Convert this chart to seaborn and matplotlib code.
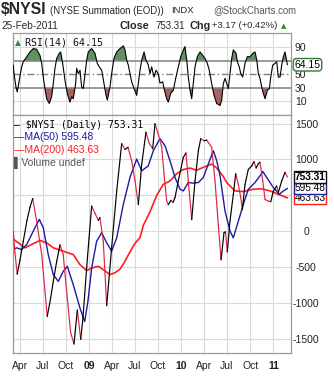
import numpy as np
import pandas as pd
import matplotlib
matplotlib.use("Agg")
import matplotlib.pyplot as plt
import seaborn as sns

# ---------------- data (time in decimal years) ----------------
nysi_t = [2008.174, 2008.192, 2008.217, 2008.247, 2008.283, 2008.323, 2008.355, 2008.385,
          2008.428, 2008.483, 2008.543, 2008.578, 2008.609, 2008.646, 2008.682, 2008.717,
          2008.754, 2008.798, 2008.834, 2008.870, 2008.907, 2008.932, 2008.972, 2008.997,
          2009.026, 2009.062, 2009.098, 2009.116, 2009.152, 2009.189, 2009.243, 2009.298,
          2009.352, 2009.388, 2009.421, 2009.461, 2009.497, 2009.533, 2009.570, 2009.616,
          2009.652, 2009.689, 2009.714, 2009.750, 2009.787, 2009.812, 2009.841, 2009.859,
          2009.888, 2009.910, 2009.932, 2009.967, 2010.022, 2010.051, 2010.076, 2010.113,
          2010.149, 2010.185, 2010.211, 2010.247, 2010.276, 2010.293, 2010.330, 2010.366,
          2010.402, 2010.432, 2010.464, 2010.480, 2010.500, 2010.529, 2010.565, 2010.591,
          2010.620, 2010.646, 2010.663, 2010.692, 2010.728, 2010.765, 2010.790, 2010.812,
          2010.837, 2010.855, 2010.885, 2010.910, 2010.946, 2010.972, 2011.000, 2011.037,
          2011.054, 2011.091, 2011.127, 2011.153]
nysi_v = [0, -300, -600, -400, -140, 150, 330, 455,
          140, -330, -1190, -950, -700, -420, -190, -330,
          -840, -1420, -1575, -1100, -1510, -1200, -500, -100,
          350, 250, 150, 190, -140, -1040, -230, 560,
          1220, 1140, 1170, 980, 700, 370, 935, 1380,
          1220, 1150, 1500, 1350, 1170, 800, 420, 370,
          430, 400, 470, 700, 1030, 1090, 700, 160,
          700, 1120, 1290, 1260, 1270, 1240, 1170, 700,
          90, -400, -20, -10, -290, 140, 510, 800,
          650, 470, 300, 650, 860, 910, 970, 880,
          940, 960, 700, 440, 420, 410, 560, 630,
          540, 700, 820, 753.31]

ma50_t = [2008.174, 2008.211, 2008.265, 2008.320, 2008.391, 2008.457, 2008.500, 2008.554,
          2008.609, 2008.663, 2008.717, 2008.761, 2008.826, 2008.899, 2008.950, 2008.985,
          2009.026, 2009.080, 2009.135, 2009.189, 2009.243, 2009.298, 2009.370, 2009.442,
          2009.515, 2009.570, 2009.641, 2009.696, 2009.768, 2009.823, 2009.877, 2009.932,
          2009.986, 2010.022, 2010.076, 2010.130, 2010.185, 2010.239, 2010.293, 2010.348,
          2010.385, 2010.421, 2010.475, 2010.529, 2010.565, 2010.620, 2010.674, 2010.728,
          2010.801, 2010.855, 2010.885, 2010.928, 2011.000, 2011.065, 2011.109, 2011.153]
ma50_v = [-257, -233, -257, -187, 0, 164, 47, -327,
          -607, -701, -561, -491, -747, -1074, -1262, -981,
          -514, -140, -22, -163, -280, -93, 374, 748,
          1005, 841, 911, 1122, 1290, 1192, 981, 748,
          585, 561, 678, 670, 678, 748, 935, 1122,
          981, 770, 280, 0, -93, 140, 374, 585,
          678, 771, 833, 748, 608, 514, 561, 595.48]

ma200_t = [2008.174, 2008.228, 2008.301, 2008.374, 2008.464, 2008.537, 2008.609, 2008.717,
           2008.826, 2008.899, 2008.972, 2009.026, 2009.098, 2009.152, 2009.225, 2009.279,
           2009.334, 2009.388, 2009.442, 2009.497, 2009.551, 2009.587, 2009.660, 2009.733,
           2009.803, 2009.877, 2009.949, 2010.022, 2010.095, 2010.167, 2010.239, 2010.330,
           2010.385, 2010.457, 2010.493, 2010.583, 2010.674, 2010.783, 2010.873, 2010.964,
           2011.054, 2011.153]
ma200_v = [-110, -163, -233, -186, -130, -163, -233, -280,
           -327, -467, -550, -514, -491, -537, -607, -580,
           -530, -420, -290, -170, -90, 80, 270, 500,
           650, 700, 800, 860, 880, 850, 890, 935,
           880, 760, 678, 561, 552, 585, 590, 561,
           514, 463.63]

rsi_t = [2008.174, 2008.182, 2008.203, 2008.217, 2008.239, 2008.265, 2008.283, 2008.320,
         2008.355, 2008.391, 2008.428, 2008.464, 2008.483, 2008.500, 2008.518, 2008.537,
         2008.565, 2008.591, 2008.609, 2008.627, 2008.646, 2008.674, 2008.689, 2008.711,
         2008.736, 2008.761, 2008.790, 2008.809, 2008.826, 2008.852, 2008.863, 2008.880,
         2008.899, 2008.917, 2008.935, 2008.953, 2008.972, 2008.989, 2009.026, 2009.062,
         2009.087, 2009.109, 2009.135, 2009.160, 2009.182, 2009.196, 2009.225, 2009.243,
         2009.268, 2009.298, 2009.334, 2009.370, 2009.388, 2009.407, 2009.424, 2009.442,
         2009.461, 2009.486, 2009.515, 2009.533, 2009.551, 2009.570, 2009.595, 2009.616,
         2009.641, 2009.660, 2009.678, 2009.703, 2009.725, 2009.750, 2009.768, 2009.798,
         2009.812, 2009.841, 2009.859, 2009.885, 2009.913, 2009.942, 2009.967, 2009.993,
         2010.022, 2010.040, 2010.059, 2010.076, 2010.095, 2010.113, 2010.130, 2010.149,
         2010.174, 2010.203, 2010.233, 2010.258, 2010.283, 2010.304, 2010.330, 2010.355,
         2010.385, 2010.421, 2010.439, 2010.457, 2010.475, 2010.493, 2010.511, 2010.529,
         2010.548, 2010.565, 2010.595, 2010.609, 2010.630, 2010.646, 2010.667, 2010.692,
         2010.717, 2010.747, 2010.776, 2010.801, 2010.820, 2010.837, 2010.855, 2010.873,
         2010.891, 2010.910, 2010.935, 2010.957, 2010.972, 2010.993, 2011.018, 2011.037,
         2011.054, 2011.073, 2011.091, 2011.109, 2011.127, 2011.153]
rsi_v = [63.6, 51, 31.5, 24, 41, 61, 68.5, 76,
         83, 88, 87, 78, 66, 46, 29, 14,
         7, 17, 36.5, 59, 73.5, 81, 83, 66,
         41, 22, 9, 17, 14, 36.5, 59, 51,
         56, 31.5, 29, 49, 71, 83, 88, 81,
         66, 61, 56, 36.5, 19, 12, 31.5, 51,
         73.5, 83, 88, 92, 86, 71, 63.6, 51,
         39, 29, 19, 36.5, 56, 71, 83, 71,
         64, 51, 61, 46, 56, 51, 37, 39,
         29, 14, 9, 22, 26.5, 46, 61, 76,
         86, 91, 71, 46, 26.5, 14, 36.5, 61,
         76, 83, 78, 73.5, 66, 56, 36.5, 19,
         7, 4, 12, 36.5, 44, 36.5, 29, 51,
         73.5, 86, 81, 68.5, 61, 51, 46, 66,
         76, 76, 81, 83, 71, 51, 44, 31.5,
         22, 14, 26.5, 29, 46, 63.6, 66, 68.5,
         46, 46, 63.6, 76, 83, 64.15]

x_tick_pos = [2008.247, 2008.496, 2008.748, 2009.0, 2009.247, 2009.496, 2009.748,
              2010.0, 2010.247, 2010.496, 2010.748, 2011.0]
x_tick_labels = ["Apr", "Jul", "Oct", "09", "Apr", "Jul", "Oct", "10", "Apr", "Jul", "Oct", "11"]
main_ticks = [-1500, -1000, -500, 0, 500, 1000, 1500]
main_tick_labels = ["-1500", "-1000", "-500", "0", "", "1000", "1500"]
rsi_ticks = [10, 30, 50, 70, 90]
rsi_tick_labels = ["10", "30", "50", "", "90"]

# ---------------- styling ----------------
sns.set_theme(style="white")
plt.rcParams["font.family"] = ["Liberation Sans", "DejaVu Sans"]

W, H = 334, 382
fig = plt.figure(figsize=(W / 100, H / 100), dpi=100)
fig.patch.set_facecolor("white")

def fx(px):
    return px / W

def fy(py):
    return 1 - py / H

ax_r = fig.add_axes([fx(13), fy(115), 278 / W, 82 / H])
ax_m = fig.add_axes([fx(13), fy(353), 278 / W, 238 / H], sharex=ax_r)

grid_c = "#dadada"
spine_c = "#9a9a9a"
up_c, down_c = "#000000", "#dc2444"
ma50_c, ma200_c = "#1c1ca0", "#ff1e1e"

for ax in (ax_r, ax_m):
    ax.set_facecolor("white")
    for s in ax.spines.values():
        s.set_color(spine_c)
        s.set_linewidth(0.9)
    ax.set_xlim(2008.171, 2011.192)
    for xt in x_tick_pos:
        ax.axvline(xt, color=grid_c, lw=0.8, zorder=0)

# ---------------- RSI panel ----------------
rsi_df = pd.DataFrame({"t": rsi_t, "rsi": rsi_v})
r = np.array(rsi_v)
ax_r.fill_between(rsi_t, r, 70, where=r >= 70, interpolate=True, color="#5f9262", lw=0, zorder=1)
ax_r.fill_between(rsi_t, r, 30, where=r <= 30, interpolate=True, color="#a86262", lw=0, zorder=1)
for lv in (10, 90):
    ax_r.axhline(lv, color=grid_c, lw=0.8, zorder=0)
ax_r.axhline(70, color="#7f7f7f", lw=1.1, zorder=1.5)
ax_r.axhline(30, color="#7f7f7f", lw=1.1, zorder=1.5)
ax_r.axhline(50, color="#7f7f7f", lw=1.0, ls=(0, (5, 2, 1, 2)), zorder=1.5)
sns.lineplot(data=rsi_df, x="t", y="rsi", ax=ax_r, color="black", lw=0.8, zorder=3)
ax_r.set_ylim(-10, 111)
ax_r.set_yticks(rsi_ticks)
ax_r.set_yticklabels(rsi_tick_labels)
ax_r.yaxis.tick_right()
ax_r.tick_params(axis="y", right=True, length=0, pad=7, labelsize=7.5, colors="#222222")
for lab in ax_r.get_yticklabels():
    lab.set_horizontalalignment("center")
ax_r.tick_params(axis="x", bottom=False, labelbottom=False)
ax_r.set_xlabel("")
ax_r.set_ylabel("")
ax_r.annotate("64.15", xy=(1, 64.15), xycoords=("axes fraction", "data"),
              xytext=(2.5, 0), textcoords="offset points", va="center", ha="left",
              fontsize=7.5, color="black", annotation_clip=False, zorder=10,
              bbox=dict(boxstyle="round,pad=0.12,rounding_size=0.3", fc="white",
                        ec="#2e7d32", lw=1.0))
ax_r.text(0.008, 0.885, "\u25b2", transform=ax_r.transAxes, fontsize=5.5, color="#3f7f3f",
          va="center", ha="left", family="DejaVu Sans")
ax_r.text(0.043, 0.89, "RSI(14) 64.15", transform=ax_r.transAxes, fontsize=7.2,
          va="center", ha="left", family="DejaVu Sans Mono", color="#111111")

# ---------------- main panel ----------------
rows = []
for i in range(len(nysi_t) - 1):
    d = "up" if nysi_v[i + 1] >= nysi_v[i] else "down"
    rows.append((nysi_t[i], nysi_v[i], i, d))
    rows.append((nysi_t[i + 1], nysi_v[i + 1], i, d))
seg_df = pd.DataFrame(rows, columns=["t", "v", "seg", "dir"])
for lv in main_ticks:
    ax_m.axhline(lv, color=grid_c, lw=0.8, zorder=0)
sns.lineplot(data=seg_df, x="t", y="v", units="seg", hue="dir", estimator=None,
             palette={"up": up_c, "down": down_c}, lw=0.85, legend=False, ax=ax_m, zorder=3)
sns.lineplot(x=ma200_t, y=ma200_v, ax=ax_m, color=ma200_c, lw=1.2, zorder=2)
sns.lineplot(x=ma50_t, y=ma50_v, ax=ax_m, color=ma50_c, lw=1.0, zorder=2.5)
ax_m.set_ylim(-1700, 1620)
ax_m.set_yticks(main_ticks)
ax_m.set_yticklabels(main_tick_labels)
ax_m.yaxis.tick_right()
ax_m.tick_params(axis="y", right=True, length=0, pad=11, labelsize=7.5, colors="#222222")
for lab in ax_m.get_yticklabels():
    lab.set_horizontalalignment("center")
ax_m.set_xticks(x_tick_pos)
ax_m.set_xticklabels(x_tick_labels)
ax_m.tick_params(axis="x", bottom=True, length=0, pad=6, labelsize=7.5, colors="#222222")
for lab in ax_m.get_xticklabels():
    if lab.get_text().isdigit():
        lab.set_fontweight("bold")
ax_m.set_xlabel("")
ax_m.set_ylabel("")

for val, txt, ec, bold in [(753.31, "753.31", "#111111", True),
                           (595.48, "595.48", ma50_c, False),
                           (463.63, "463.63", ma200_c, False)]:
    ax_m.annotate(txt, xy=(1, val), xycoords=("axes fraction", "data"),
                  xytext=(2.5, 0), textcoords="offset points", va="center", ha="left",
                  fontsize=7.3, fontweight="bold" if bold else "normal", color="black",
                  annotation_clip=False, zorder=10 + val / 1000,
                  bbox=dict(boxstyle="square,pad=0.08", fc="white", ec=ec, lw=1.0))

leg = [("\u2014 $NYSI (Daily) 753.31", "#000000", "DejaVu Sans Mono", 7.0),
       ("\u2014MA(50) 595.48", ma50_c, "Liberation Sans", 7.5),
       ("\u2014MA(200) 463.63", ma200_c, "Liberation Sans", 7.5),
       ("\u258cVolume undef", "#555555", "Liberation Sans", 7.5)]
for k, (txt, c, fam, fs) in enumerate(leg):
    fig.text(fx(14), fy(124.5 + 12.7 * k), txt, color=c, family=fam, fontsize=fs,
             va="center", ha="left")

# ---------------- header ----------------
fig.text(fx(1), fy(10), "$NYSI", fontsize=11.3, fontweight="bold", va="center", ha="left")
fig.text(fx(50), fy(10.5), "(NYSE Summation (EOD))", fontsize=6.9, va="center", ha="left")
fig.text(fx(171), fy(10.5), "INDX", fontsize=6.8, va="center", ha="left")
fig.text(fx(213), fy(10.5), "@StockCharts.com", fontsize=6.9, va="center", ha="left", color="#555555")
fig.text(fx(1), fy(26), "25-Feb-2011", fontsize=7.2, va="center", ha="left")
fig.text(fx(120), fy(26), "Close", fontsize=7.8, fontweight="bold", va="center", ha="left")
fig.text(fx(155), fy(26), "753.31", fontsize=7, va="center", ha="left")
fig.text(fx(189), fy(26), "Chg", fontsize=7.8, fontweight="bold", va="center", ha="left")
fig.text(fx(212), fy(26), "+3.17 (+0.42%)", fontsize=6.8, va="center", ha="left")
fig.text(fx(281), fy(26), "\u25b2", fontsize=5.0, va="center", ha="left", color="#2e8b2e",
         family="DejaVu Sans")

fig.savefig("out.png", dpi=100, facecolor="white")
